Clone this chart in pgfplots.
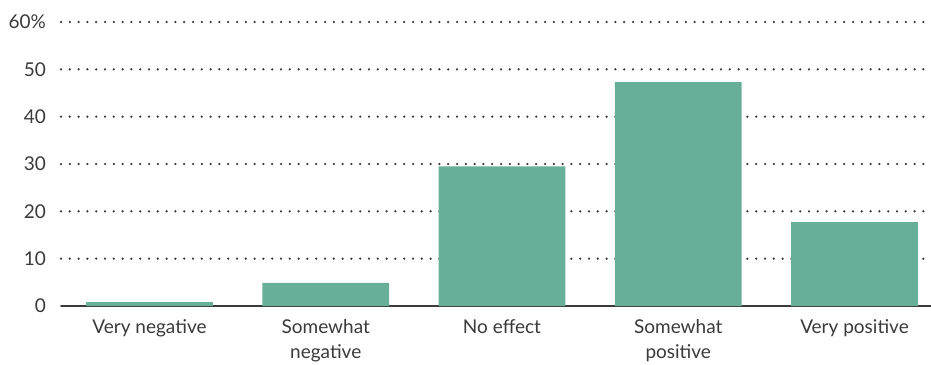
\documentclass[border=0pt]{standalone}
\usepackage{pgfplots}
\pgfplotsset{compat=1.18}
\usepackage{fontspec}
\setmainfont{Lato}
\definecolor{barteal}{HTML}{67AF98}
\definecolor{inkgray}{HTML}{3A3A3A}

\begin{document}
\begin{tikzpicture}
\begin{axis}[
  scale only axis,
  width=870pt, height=284pt,
  xmin=-0.502, xmax=4.434,
  ymin=0, ymax=60,
  axis line style={draw=none},
  major tick length=0pt,
  ytick={10,20,30,40,50,60},
  yticklabels={10,20,30,40,50,60\%},
  extra y ticks={0},
  extra y tick labels={0},
  extra y tick style={grid style={solid, line width=1.8pt, draw=inkgray, dash pattern=}},
  ymajorgrids,
  grid style={draw=inkgray, line width=2.5pt, line cap=round, dash pattern=on 0pt off 8.8pt},
  xtick=data,
  xticklabels={Very negative, Somewhat\\negative, No effect, Somewhat\\positive, Very positive},
  xticklabel style={align=center, font=\fontsize{19}{25}\selectfont, text=inkgray, inner sep=0pt, yshift=-13pt},
  yticklabel style={font=\fontsize{19}{25}\selectfont, text=inkgray, inner sep=0pt, xshift=-15pt},
  /pgf/number format/assume math mode=true,
]
\addplot[ybar, bar width=0.72, bar shift=0pt, fill=barteal, draw=none]
  coordinates {(0,0.8) (1,4.9) (2,29.5) (3,47.3) (4,17.7)};
\end{axis}
\pgfresetboundingbox
\path[use as bounding box] ([xshift=-61pt,yshift=-58pt]current axis.south west) rectangle ([yshift=22pt]current axis.north east);
\end{tikzpicture}
\end{document}
